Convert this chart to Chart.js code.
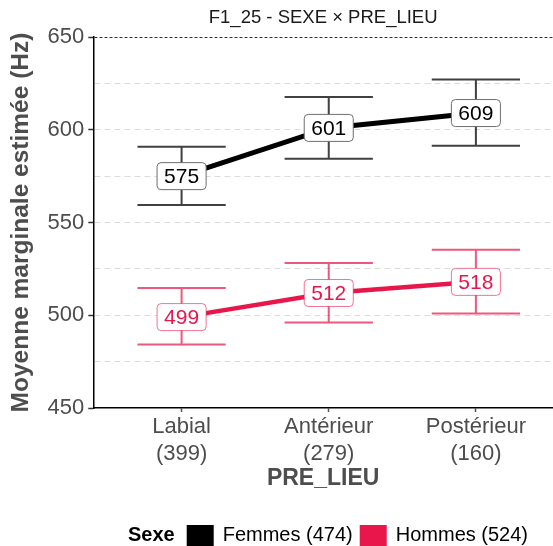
<!DOCTYPE html>
<html>
<head>
<meta charset="utf-8">
<script src="https://cdn.jsdelivr.net/npm/chart.js@4/dist/chart.umd.min.js"></script>
<style>
html,body{margin:0;padding:0;background:#fff;}
#wrap{width:553px;height:546px;position:relative;}
</style>
</head>
<body>
<div id="wrap"><canvas id="c" width="553" height="546"></canvas></div>
<script>
const categories = ['Labial', 'Antérieur', 'Postérieur'];
const counts = [399, 279, 160];
const femmes = [575, 601, 609];
const femmesLow = [559.5, 584.4, 591.4];
const femmesHigh = [590.9, 617.7, 627.1];
const hommes = [499, 512, 518];
const hommesLow = [484.2, 496.1, 500.9];
const hommesHigh = [514.7, 528.2, 535.3];
const yTicks = [450, 500, 550, 600, 650];
const seriesNames = ['Femmes (474)', 'Hommes (524)'];
const chartTitle = 'F1_25 - SEXE × PRE_LIEU';
const legendTitle = 'Sexe';

const FONT = '"Liberation Sans", Arial, sans-serif';
const BLACK = '#000000';
const RED = '#E8174B';

const series = [
  {name: seriesNames[0], values: femmes, low: femmesLow, high: femmesHigh, color: BLACK,
   errColor: 'rgba(0,0,0,0.75)', boxBorder: '#6e6e6e', width: 5},
  {name: seriesNames[1], values: hommes, low: hommesLow, high: hommesHigh, color: RED,
   errColor: 'rgba(232,23,75,0.72)', boxBorder: 'rgba(232,23,75,0.6)', width: 4.5}
];

function roundRect(ctx, x, y, w, h, r) {
  ctx.beginPath();
  ctx.moveTo(x + r, y);
  ctx.lineTo(x + w - r, y);
  ctx.quadraticCurveTo(x + w, y, x + w, y + r);
  ctx.lineTo(x + w, y + h - r);
  ctx.quadraticCurveTo(x + w, y + h, x + w - r, y + h);
  ctx.lineTo(x + r, y + h);
  ctx.quadraticCurveTo(x, y + h, x, y + h - r);
  ctx.lineTo(x, y + r);
  ctx.quadraticCurveTo(x, y, x + r, y);
  ctx.closePath();
}

const extras = {
  id: 'extras',
  beforeDatasetsDraw(chart) {
    const ctx = chart.ctx, xs = chart.scales.x, ys = chart.scales.y;
    ctx.save();
    series.forEach(s => {
      ctx.strokeStyle = s.errColor;
      ctx.lineWidth = 2;
      s.values.forEach((v, i) => {
        const cx = xs.getPixelForValue(i);
        const half = (xs.getPixelForValue(1) - xs.getPixelForValue(0)) * 0.3;
        const yl = ys.getPixelForValue(s.low[i]);
        const yh = ys.getPixelForValue(s.high[i]);
        ctx.beginPath();
        ctx.moveTo(cx - half, yh); ctx.lineTo(cx + half, yh);
        ctx.moveTo(cx, yh); ctx.lineTo(cx, yl);
        ctx.moveTo(cx - half, yl); ctx.lineTo(cx + half, yl);
        ctx.stroke();
      });
    });
    ctx.restore();
  },
  afterDatasetsDraw(chart) {
    const ctx = chart.ctx, xs = chart.scales.x, ys = chart.scales.y;
    ctx.save();
    ctx.font = '21px ' + FONT;
    ctx.textAlign = 'center';
    ctx.textBaseline = 'middle';
    series.forEach(s => {
      s.values.forEach((v, i) => {
        const cx = xs.getPixelForValue(i);
        const cy = ys.getPixelForValue(v);
        const txt = String(v);
        const w = ctx.measureText(txt).width + 14;
        const h = 27;
        roundRect(ctx, cx - w / 2, cy - h / 2, w, h, 4);
        ctx.fillStyle = '#ffffff';
        ctx.fill();
        ctx.lineWidth = 1;
        ctx.strokeStyle = s.boxBorder;
        ctx.stroke();
        ctx.fillStyle = s.color;
        ctx.fillText(txt, cx, cy + 1);
      });
    });
    ctx.restore();
  },
  afterDraw(chart) {
    const ctx = chart.ctx, area = chart.chartArea;
    ctx.save();
    ctx.font = '18.5px ' + FONT;
    ctx.fillStyle = '#1a1a1a';
    ctx.textAlign = 'center';
    ctx.textBaseline = 'middle';
    ctx.fillText(chartTitle, (area.left + area.right) / 2, 18);
    const ly = 535;
    ctx.textAlign = 'left';
    ctx.font = 'bold 20px ' + FONT;
    ctx.fillStyle = '#000';
    ctx.fillText(legendTitle, 128, ly);
    let x = 128 + ctx.measureText(legendTitle).width + 12;
    ctx.font = '20px ' + FONT;
    series.forEach(s => {
      ctx.fillStyle = s.color;
      ctx.fillRect(x, 525, 27, 27);
      x += 27 + 9;
      ctx.fillStyle = '#000';
      ctx.fillText(s.name, x, ly);
      x += ctx.measureText(s.name).width + 7;
    });
    ctx.restore();
  }
};

new Chart(document.getElementById('c'), {
  type: 'line',
  data: {
    datasets: series.map(s => ({
      label: s.name,
      data: s.values.map((v, i) => ({x: i, y: v})),
      borderColor: s.color,
      backgroundColor: s.color,
      borderWidth: s.width,
      pointRadius: 0,
      tension: 0
    }))
  },
  options: {
    responsive: false,
    animation: false,
    devicePixelRatio: 1,
    layout: {padding: {top: 37, right: 0, bottom: 52, left: 0}},
    plugins: {legend: {display: false}, tooltip: {enabled: false}, title: {display: false}},
    scales: {
      x: {
        type: 'linear',
        min: -0.6,
        max: 2.524,
        afterBuildTicks: s => { s.ticks = categories.map((c, i) => ({value: i})); },
        afterFit: s => { s.height = 86; },
        grid: {drawOnChartArea: false, drawTicks: true, tickLength: 4, tickColor: '#555', tickWidth: 1.5},
        border: {display: true, color: '#000', width: 1.5},
        ticks: {
          padding: 1,
          autoSkip: false,
          maxRotation: 0,
          color: '#4d4d4d',
          font: {family: FONT, size: 22, lineHeight: 1.25},
          callback: v => [categories[v], '(' + counts[v] + ')']
        },
        title: {
          display: true, text: 'PRE_LIEU', color: '#4d4d4d',
          font: {family: FONT, size: 23, weight: 'bold', lineHeight: 1.2},
          padding: {top: 0, bottom: 2}
        }
      },
      y: {
        min: 450,
        max: 650,
        afterBuildTicks: s => {
          const t = [];
          for (let v = 450; v <= 650; v += 25) t.push({value: v});
          s.ticks = t;
        },
        afterFit: s => { s.width = 93.3; },
        grid: {
          color: c => c.tick && c.tick.value === 650 ? '#333333' : (c.tick && c.tick.value === 450 ? 'rgba(0,0,0,0)' : '#dcdcdc'),
          lineWidth: 1,
          tickLength: 5,
          tickColor: c => (c.tick && yTicks.includes(c.tick.value)) ? '#333' : 'rgba(0,0,0,0)',
          tickWidth: 1.5
        },
        border: {
          display: true, color: '#000', width: 1.5,
          dash: c => (c.tick && c.tick.value === 650) ? [3, 2] : [6, 4]
        },
        ticks: {
          padding: 4,
          color: '#4d4d4d',
          font: {family: FONT, size: 22},
          callback: v => yTicks.includes(v) ? String(v) : ''
        },
        title: {
          display: true, text: 'Moyenne marginale estimée (Hz)', color: '#4d4d4d',
          font: {family: FONT, size: 24.5, weight: 'bold', lineHeight: 1.2},
          padding: {top: 7, bottom: 0}
        }
      }
    }
  },
  plugins: [extras]
});
</script>
</body>
</html>
